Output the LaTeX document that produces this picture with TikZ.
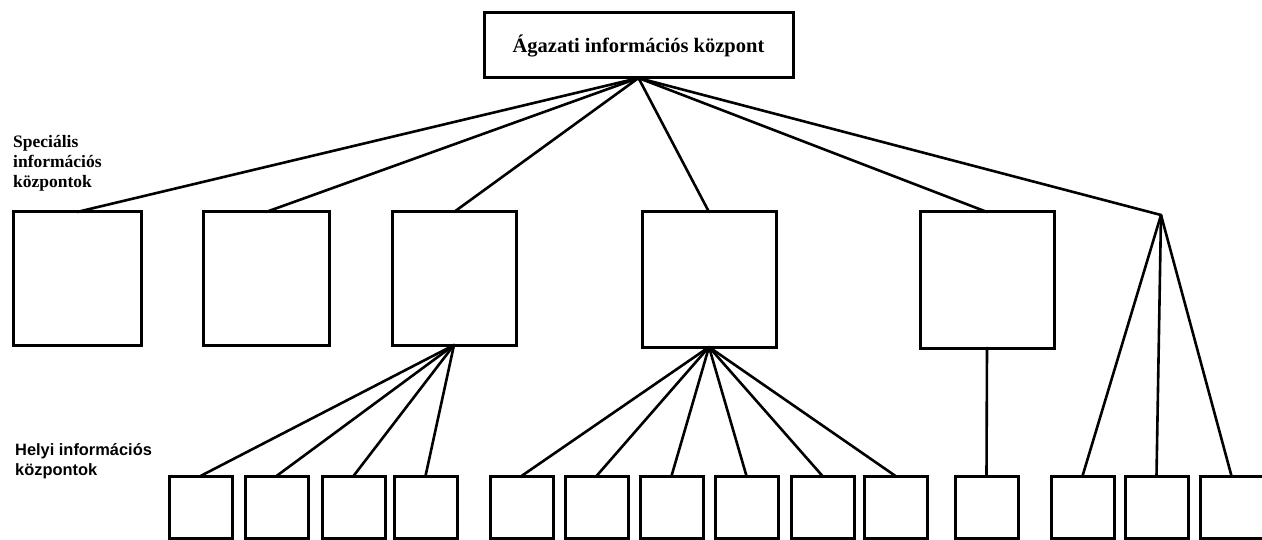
\documentclass[tikz,border=0pt]{standalone}
\usepackage{fontspec}
\setmainfont{Liberation Serif}
\newfontfamily\labsans{Liberation Sans}
\begin{document}
\begin{tikzpicture}[x=1pt,y=-1pt,
  box/.style={draw,line width=3pt,inner sep=0pt,outer sep=0pt,anchor=north west},
  bigbox/.style={box,minimum width=128pt,minimum height=133pt},
  smallbox/.style={box,minimum width=63pt,minimum height=62pt},
  link/.style={line width=2.6pt,line cap=round},
  lab/.style={anchor=north west,align=left,inner sep=0pt}]
\useasboundingbox (0,0) rectangle (1262,540);
\begin{scope}
\clip (0,0) rectangle (1262,540);
\node[box,minimum width=309pt,minimum height=65pt,anchor=center] (top) at (638.5,45.5)
  {\fontsize{20.5pt}{24pt}\selectfont\bfseries Ágazati információs központ};
\node[lab,font=\fontsize{17.5pt}{20pt}\selectfont\bfseries] (lab1) at (13,135)
  {Speciális\\információs\\központok};
\node[lab,font=\labsans\fontsize{16.4pt}{20pt}\selectfont\bfseries] (lab2) at (15,443)
  {Helyi információs\\központok};
\node[bigbox] (s1) at (13,212) {};
\node[bigbox,minimum width=126pt] (s2) at (203,212) {};
\node[bigbox,minimum width=124pt] (s3) at (392,212) {};
\node[bigbox,minimum width=134pt,minimum height=135pt] (s4) at (642,212) {};
\node[bigbox,minimum width=134pt,minimum height=136pt] (s5) at (920,212) {};
\coordinate (j) at (1161,215);
\foreach \n/\x in {1/169,2/245,3/322,4/394,5/490,6/565,7/640,8/715,9/791,10/864,11/955,12/1051,13/1125,14/1200}
  \node[smallbox] (b\n) at (\x,476) {};
\foreach \t in {s1,s2,s3,s4,s5,j}
  \draw[link] (top.south) -- (\t.north);
\foreach \t in {b1,b2,b3,b4}
  \draw[link] (s3.south) -- (\t.north);
\foreach \t in {b5,b6,b7,b8,b9,b10}
  \draw[link] (s4.south) -- (\t.north);
\draw[link] (s5.south) -- (b11.north);
\foreach \t in {b12,b13,b14}
  \draw[link] (j) -- (\t.north);
\end{scope}
\end{tikzpicture}
\end{document}
